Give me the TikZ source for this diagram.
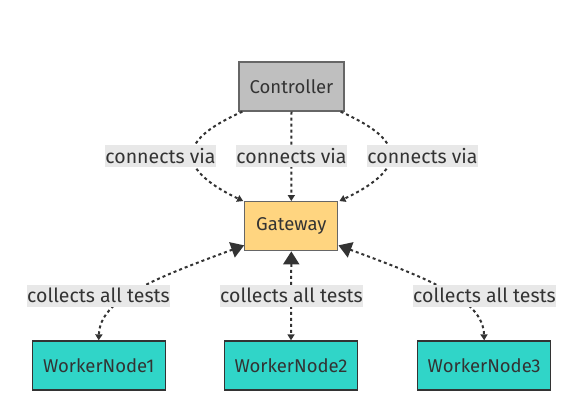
\documentclass[tikz,border=0pt]{standalone}
\usepackage{fontspec}
\setmainfont{Fira Sans}
\usetikzlibrary{arrows.meta}
\definecolor{txt}{HTML}{333333}
\definecolor{edge}{HTML}{333333}
\definecolor{bord}{HTML}{666666}
\definecolor{ctrlfill}{HTML}{BFBFBF}
\definecolor{gwfill}{HTML}{FFD580}
\definecolor{wkfill}{HTML}{30D5C8}
\definecolor{lblfill}{HTML}{E8E8E8}
\tikzset{
  box/.style={draw=bord, line width=1.3pt, text=txt, inner sep=0pt, font=\fontsize{18.5}{22}\selectfont},
  ctrlbox/.style={box, fill=ctrlfill, minimum width=105pt, minimum height=49pt},
  gwbox/.style={box, fill=gwfill, minimum width=93pt, minimum height=49pt},
  wkbox/.style={box, draw=txt, fill=wkfill, minimum width=133pt, minimum height=49pt},
  lbl/.style={fill=lblfill, text=txt, inner sep=0pt, minimum height=22pt, font=\fontsize{19.5}{23}\selectfont},
  dotline/.style={draw=edge, line width=2pt, dash pattern=on 3pt off 3pt},
  smalltip/.style={-{Triangle[length=6pt,width=7pt]}},
  bothtip/.style={{Triangle[length=13pt,width=16pt]}-{Triangle[length=6pt,width=7pt]}}
}
\begin{document}
\begin{tikzpicture}[x=1pt,y=-1pt]
\useasboundingbox (0,0) rectangle (587,415);
\node[ctrlbox] (ctrl) at (291.5,86.5) {Controller};
\node[gwbox] (gw) at (291.3,226.2) {Gateway};
\node[wkbox] (w1) at (98.7,365.5) {WorkerNode1};
\node[wkbox] (w2) at (291,365.5) {WorkerNode2};
\node[wkbox] (w3) at (484.2,365.5) {WorkerNode3};
% top edges
\draw[dotline,smalltip] ([xshift=4pt]ctrl.south west) .. controls (215,124) and (192,138) .. (192,156)
   .. controls (192,174) and (220,190) .. ([xshift=-1pt]gw.north west);
\draw[dotline,smalltip] (ctrl.south) -- (gw.north);
\draw[dotline,smalltip] ([xshift=-4pt]ctrl.south east) .. controls (368,124) and (391,138) .. (391,156)
   .. controls (391,174) and (363,190) .. ([xshift=1pt]gw.north east);
% bottom edges
\draw[dotline,bothtip] ([yshift=6pt]gw.south west) .. controls (150,280) and (100,300) .. (w1.north);
\draw[dotline,bothtip] (gw.south) -- (w2.north);
\draw[dotline,bothtip] ([yshift=6pt]gw.south east) .. controls (432,280) and (483,300) .. (w3.north);
% labels
\node[lbl, minimum width=107pt] (l1) at (160.5,156) {connects via};
\node[lbl, minimum width=107pt] (l2) at (291.5,156) {connects via};
\node[lbl, minimum width=107pt] (l3) at (422.5,156) {connects via};
\node[lbl, minimum width=141pt] (l4) at (98.5,295.5) {collects all tests};
\node[lbl, minimum width=141pt] (l5) at (291.5,295.5) {collects all tests};
\node[lbl, minimum width=141pt] (l6) at (484.5,295.5) {collects all tests};
\end{tikzpicture}
\end{document}
